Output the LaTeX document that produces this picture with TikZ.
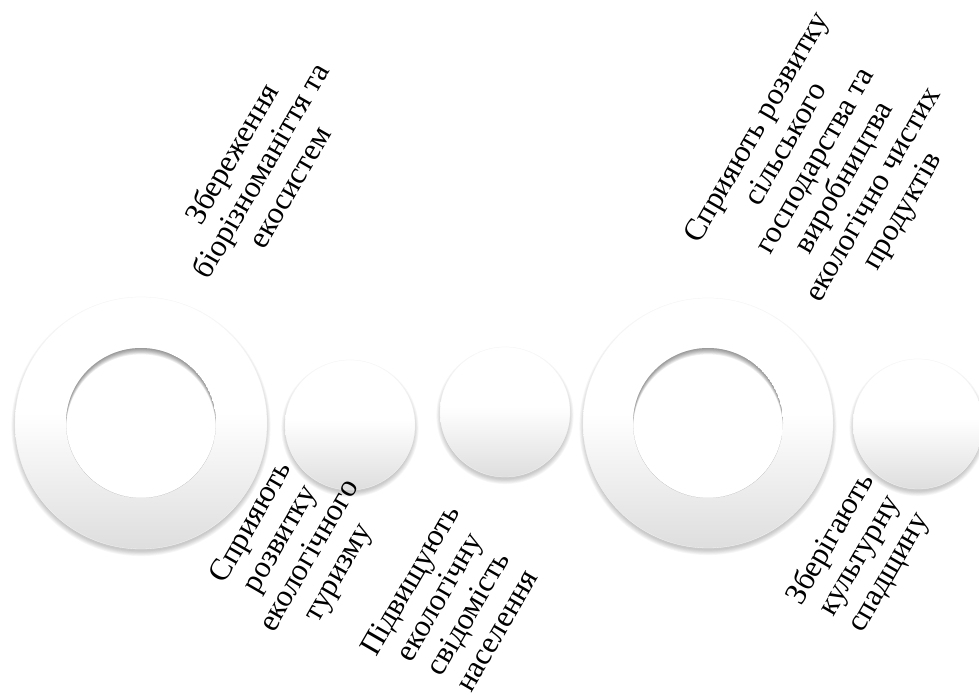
\documentclass[tikz,border=0pt]{standalone}
\usepackage{fontspec}
\setmainfont{Liberation Serif}
\pgfdeclareverticalshading{discshade}{100bp}{color(0bp)=(black!13); color(25bp)=(black!13); color(52bp)=(white); color(100bp)=(white)}
\newcommand\softshadow[3]{%
  \foreach \k in {1,...,7}{\fill[black,opacity=0.03] (#1,#2-3.5) circle (#3-2+\k*0.8);}}
\tikzset{
  disc/.style={circle, inner sep=0pt, minimum size=#1, shading=discshade, draw=black!4, line width=0.3pt},
  hole/.style={circle, inner sep=0pt, minimum size=#1, fill=white,
    path picture={\foreach \k in {1,...,7}{%
      \fill[black,opacity=0.065,even odd rule] (path picture bounding box.center) circle (#1/2)
        ([yshift=-\k*0.9pt]path picture bounding box.center) circle (#1/2);}}},
  lbl/.style={rotate=60, align=center, inner sep=0pt, text=black,
    font=\fontsize{31}{33.5}\selectfont},
}
\begin{document}
\begin{tikzpicture}[x=1pt,y=1pt]
\useasboundingbox[fill=white] (0,0) rectangle (979,697);
% shadows
\softshadow{141}{274}{126}
\softshadow{350}{272}{65}
\softshadow{505}{285}{65}
\softshadow{708}{274}{125}
\softshadow{918}{273}{65}
% discs
\node[disc=252] (r1) at (141,274) {};
\node[hole=150] (h1) at (r1.center) {};
\node[disc=130] (c1) at (350,272) {};
\node[disc=130] (c2) at (505,285) {};
\node[disc=250] (r2) at (708,274) {};
\node[hole=150] (h2) at (r2.center) {};
\node[disc=130] (c3) at (918,273) {};
% labels
\node[lbl] (t1) at (260,527) {Збереження\\біорізноманіття та\\екосистем};
\node[lbl] (t2) at (831,527) {Сприяють розвитку\\сільського\\господарства та\\виробництва\\екологічно чистих\\продуктів};
\node[lbl] (t3) at (296,149) {Сприяють\\розвитку\\екологічного\\туризму};
\node[lbl] (t4) at (453,92) {Підвищують\\екологічну\\свідомість\\населення};
\node[lbl] (t5) at (860,141) {Зберігають\\культурну\\спадщину};
\end{tikzpicture}
\end{document}
